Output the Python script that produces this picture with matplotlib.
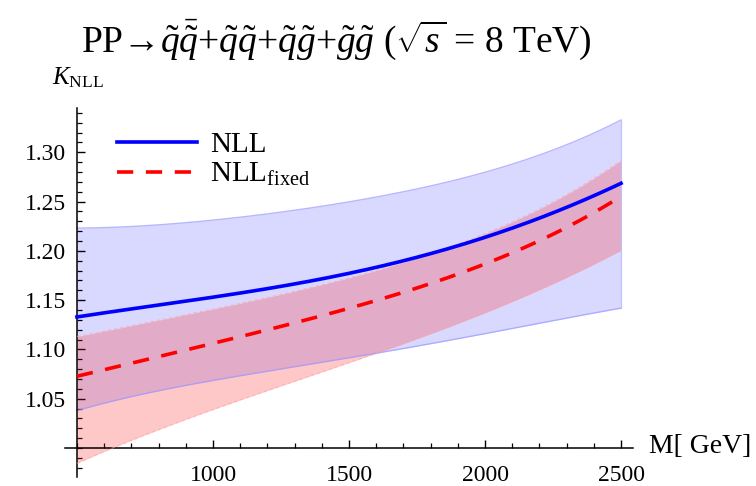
import matplotlib
matplotlib.use("Agg")
import matplotlib.pyplot as plt
from matplotlib.ticker import MultipleLocator, FixedLocator
import numpy as np

# ---- data ----
M = [500, 750, 1000, 1250, 1500, 1750, 2000, 2250, 2500]
nll = [1.133, 1.143, 1.153, 1.165, 1.176, 1.193, 1.216, 1.237, 1.269]
nll_up = [1.223, 1.226, 1.231, 1.239, 1.250, 1.263, 1.280, 1.302, 1.333]
nll_lo = [1.038, 1.055, 1.069, 1.080, 1.091, 1.104, 1.116, 1.129, 1.142]
fix = [1.073, 1.089, 1.106, 1.124, 1.142, 1.162, 1.186, 1.218, 1.255]
fix_up = [1.113, 1.127, 1.141, 1.156, 1.172, 1.193, 1.218, 1.249, 1.292]
fix_lo = [0.984, 1.015, 1.038, 1.062, 1.087, 1.112, 1.137, 1.166, 1.201]
xticks = [1000, 1500, 2000, 2500]
yticks = [1.05, 1.10, 1.15, 1.20, 1.25, 1.30]

plt.rcParams['font.family'] = ['Liberation Serif', 'DejaVu Serif']
plt.rcParams['mathtext.fontset'] = 'custom'
plt.rcParams['mathtext.rm'] = 'Liberation Serif'
plt.rcParams['mathtext.it'] = 'Liberation Serif:italic'
plt.rcParams['mathtext.bf'] = 'Liberation Serif:bold'

W, H = 756, 486
fig = plt.figure(figsize=(W / 100, H / 100), dpi=100)
fig.patch.set_facecolor('white')

ax = fig.add_axes([65 / W, 1 - 477 / H, (633 - 65) / W, (477 - 108) / H])
ax.set_xlim(456, 2544)
ax.set_ylim(0.9706, 1.345)
ax.patch.set_alpha(0)

def smooth(x, y, n=200):
    x = np.asarray(x, float); y = np.asarray(y, float)
    xs = np.linspace(x[0], x[-1], n)
    coef = np.polyfit(x, y, 4)
    return xs, np.polyval(coef, xs)

xs, bu = smooth(M, nll_up)
_, bl = smooth(M, nll_lo)
_, bm = smooth(M, nll)
_, ru = smooth(M, fix_up)
_, rl = smooth(M, fix_lo)
_, rm = smooth(M, fix)

ax.fill_between(xs, bl, bu, color=(0.0, 0.0, 1.0), alpha=0.15, lw=0, zorder=1)
ax.fill_between(xs, rl, ru, color=(1.0, 0.1, 0.1), alpha=0.24, lw=0, zorder=2)
for yy in (bu, bl):
    ax.plot(xs, yy, color=(0.6, 0.6, 1.0), lw=1.0, alpha=0.7, zorder=2)
for yy in (ru, rl):
    ax.plot(xs, yy, color=(1.0, 0.65, 0.65), lw=0.9, ls=(0, (3, 2)), alpha=0.6, zorder=3)
ax.plot([M[-1], M[-1]], [nll_lo[-1], nll_up[-1]], color=(0.75, 0.75, 1.0), lw=0.8, zorder=2)

l1, = ax.plot(xs, bm, color=(0, 0, 1), lw=2.6, zorder=5, label='NLL')
l2, = ax.plot(xs, rm, color=(1, 0, 0), lw=2.6, ls=(0, (4.5, 3.5)), zorder=5,
              label=r'NLL$_{\mathrm{fixed}}$')

# Mathematica-style axes through (500, 1.00)
for s in ('top', 'right'):
    ax.spines[s].set_visible(False)
ax.spines['left'].set_position(('data', 500))
ax.spines['bottom'].set_position(('data', 1.0))
ax.spines['left'].set_linewidth(1.1)
ax.spines['bottom'].set_linewidth(1.1)

ax.xaxis.set_major_locator(FixedLocator(xticks))
ax.xaxis.set_minor_locator(MultipleLocator(100))
ax.yaxis.set_major_locator(FixedLocator(yticks))
ax.yaxis.set_minor_locator(MultipleLocator(0.01))
ax.set_yticklabels(['%.2f' % v for v in yticks])
ax.set_xticklabels([str(v) for v in xticks])
ax.tick_params(which='major', direction='in', length=6, width=1.0, labelsize=17)
ax.tick_params(which='minor', direction='in', length=3.5, width=0.9)
ax.tick_params(axis='y', pad=8)
ax.tick_params(axis='x', pad=12)

leg = ax.legend(handles=[l1, l2], loc='upper left',
                frameon=False, fontsize=21, handlelength=2.75, handletextpad=0.45,
                labelspacing=0.08, borderaxespad=0, borderpad=0)
leg.set_bbox_to_anchor((117 / W, 1 - 132 / H), transform=fig.transFigure)

fig.text(78 / W, 1 - 78 / H, r'$K_{\mathrm{NLL}}$', fontsize=18, ha='center', va='center')
fig.text(649 / W, 1 - 446 / H, 'M[ GeV]', fontsize=20, ha='left', va='center')
fig.text(336 / W, 1 - 40 / H,
         r'PP→$\tilde{q}\bar{\tilde{q}}{+}\tilde{q}\tilde{q}{+}\tilde{q}\tilde{g}{+}\tilde{g}\tilde{g}$ ($\sqrt{s}$ = 8 TeV)',
         fontsize=27, ha='center', va='center')

fig.savefig('out.png', dpi=100)
